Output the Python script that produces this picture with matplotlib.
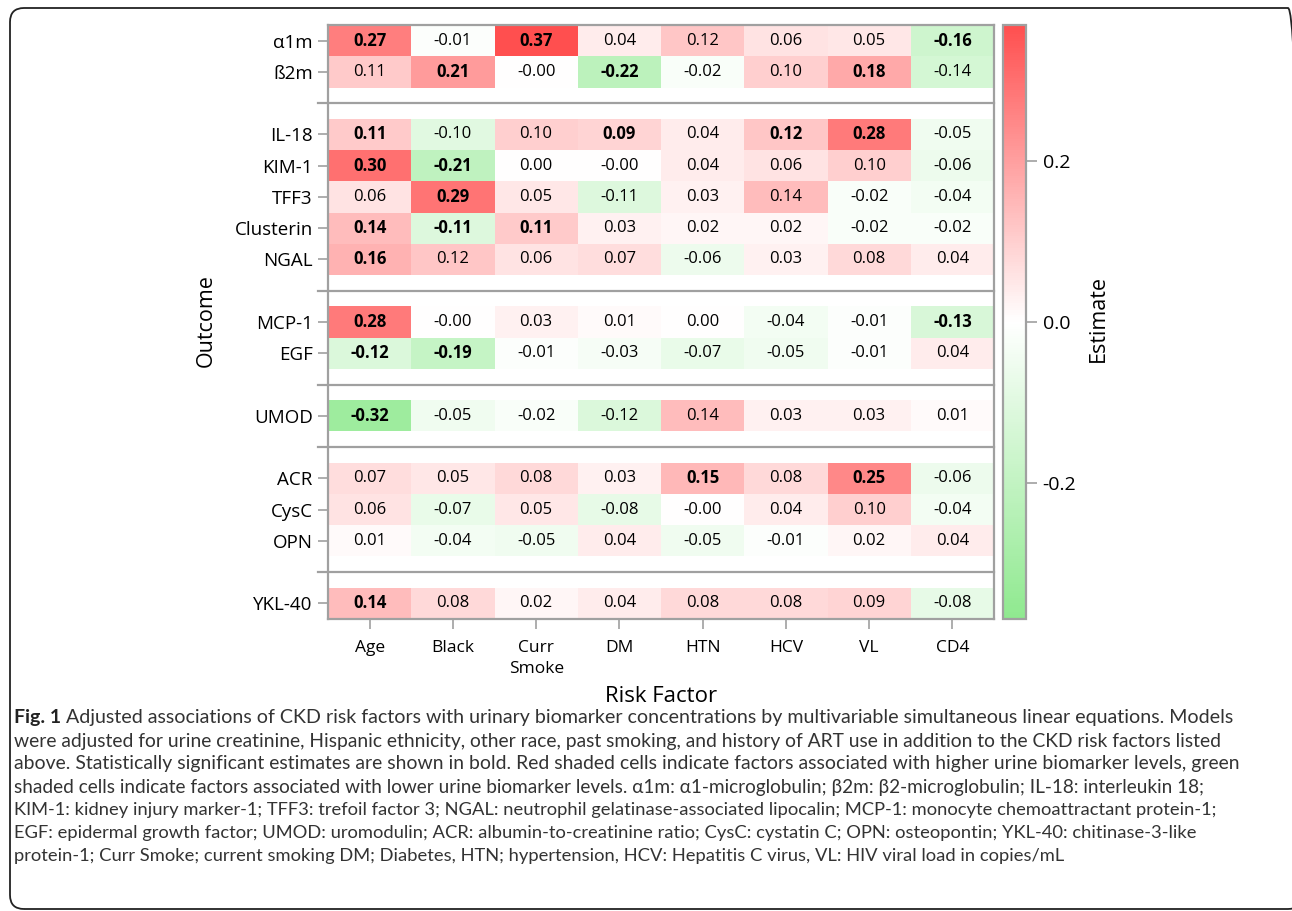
import numpy as np
import matplotlib
matplotlib.use("Agg")
import matplotlib.pyplot as plt
from matplotlib.colors import LinearSegmentedColormap
from matplotlib.patches import FancyBboxPatch
from matplotlib.ticker import FormatStrFormatter

plt.rcParams['font.family'] = ['Open Sans', 'DejaVu Sans']
plt.rcParams['axes.unicode_minus'] = False

# risk factors (columns) and outcome groups (rows)
risk_factors = ["Age", "Black", "Curr\nSmoke", "DM", "HTN", "HCV", "VL", "CD4"]
groups = [
    ["α1m", "ß2m"],
    ["IL-18", "KIM-1", "TFF3", "Clusterin", "NGAL"],
    ["MCP-1", "EGF"],
    ["UMOD"],
    ["ACR", "CysC", "OPN"],
    ["YKL-40"],
]

estimates = {
    "α1m":       [0.27, -0.01, 0.37, 0.04, 0.12, 0.06, 0.05, -0.16],
    "ß2m":       [0.11, 0.21, -0.0, -0.22, -0.02, 0.10, 0.18, -0.14],
    "IL-18":     [0.11, -0.10, 0.10, 0.09, 0.04, 0.12, 0.28, -0.05],
    "KIM-1":     [0.30, -0.21, 0.00, -0.0, 0.04, 0.06, 0.10, -0.06],
    "TFF3":      [0.06, 0.29, 0.05, -0.11, 0.03, 0.14, -0.02, -0.04],
    "Clusterin": [0.14, -0.11, 0.11, 0.03, 0.02, 0.02, -0.02, -0.02],
    "NGAL":      [0.16, 0.12, 0.06, 0.07, -0.06, 0.03, 0.08, 0.04],
    "MCP-1":     [0.28, -0.0, 0.03, 0.01, 0.00, -0.04, -0.01, -0.13],
    "EGF":       [-0.12, -0.19, -0.01, -0.03, -0.07, -0.05, -0.01, 0.04],
    "UMOD":      [-0.32, -0.05, -0.02, -0.12, 0.14, 0.03, 0.03, 0.01],
    "ACR":       [0.07, 0.05, 0.08, 0.03, 0.15, 0.08, 0.25, -0.06],
    "CysC":      [0.06, -0.07, 0.05, -0.08, -0.0, 0.04, 0.10, -0.04],
    "OPN":       [0.01, -0.04, -0.05, 0.04, -0.05, -0.01, 0.02, 0.04],
    "YKL-40":    [0.14, 0.08, 0.02, 0.04, 0.08, 0.08, 0.09, -0.08],
}

# statistically significant (bold) cells
significant = {
    "α1m":       [1, 0, 1, 0, 0, 0, 0, 1],
    "ß2m":       [0, 1, 0, 1, 0, 0, 1, 0],
    "IL-18":     [1, 0, 0, 1, 0, 1, 1, 0],
    "KIM-1":     [1, 1, 0, 0, 0, 0, 0, 0],
    "TFF3":      [0, 1, 0, 0, 0, 0, 0, 0],
    "Clusterin": [1, 1, 1, 0, 0, 0, 0, 0],
    "NGAL":      [1, 0, 0, 0, 0, 0, 0, 0],
    "MCP-1":     [1, 0, 0, 0, 0, 0, 0, 1],
    "EGF":       [1, 1, 0, 0, 0, 0, 0, 0],
    "UMOD":      [1, 0, 0, 0, 0, 0, 0, 0],
    "ACR":       [0, 0, 0, 0, 1, 0, 1, 0],
    "CysC":      [0, 0, 0, 0, 0, 0, 0, 0],
    "OPN":       [0, 0, 0, 0, 0, 0, 0, 0],
    "YKL-40":    [1, 0, 0, 0, 0, 0, 0, 0],
}

caption_lines = [
    "Adjusted associations of CKD risk factors with urinary biomarker concentrations by multivariable simultaneous linear equations. Models",
    "were adjusted for urine creatinine, Hispanic ethnicity, other race, past smoking, and history of ART use in addition to the CKD risk factors listed",
    "above. Statistically significant estimates are shown in bold. Red shaded cells indicate factors associated with higher urine biomarker levels, green",
    "shaded cells indicate factors associated with lower urine biomarker levels. α1m: α1-microglobulin; β2m: β2-microglobulin; IL-18: interleukin 18;",
    "KIM-1: kidney injury marker-1; TFF3: trefoil factor 3; NGAL: neutrophil gelatinase-associated lipocalin; MCP-1: monocyte chemoattractant protein-1;",
    "EGF: epidermal growth factor; UMOD: uromodulin; ACR: albumin-to-creatinine ratio; CysC: cystatin C; OPN: osteopontin; YKL-40: chitinase-3-like",
    "protein-1; Curr Smoke; current smoking DM; Diabetes, HTN; hypertension, HCV: Hepatitis C virus, VL: HIV viral load in copies/mL",
]
# right end (px) of each caption line in the printed figure
caption_ends = [1240, 1227, 1243, 1214, 1222, 1186, 1023]

# build row layout: a blank row between groups
row_labels = []
sep_rows = []
for gi, g in enumerate(groups):
    row_labels += g
    if gi < len(groups) - 1:
        sep_rows.append(len(row_labels))
        row_labels.append(None)
n_rows = len(row_labels)
n_cols = len(risk_factors)

grid = np.full((n_rows, n_cols), np.nan)
for r, name in enumerate(row_labels):
    if name is not None:
        grid[r] = estimates[name]

W, H = 1292, 911
fig = plt.figure(figsize=(W / 100, H / 100), dpi=100)

# outer rounded frame (right side runs off the page)
frame = FancyBboxPatch((0.10, 0.02), 12.92, 9.01,
                       boxstyle="round,pad=0,rounding_size=0.14",
                       transform=fig.dpi_scale_trans, fill=False,
                       edgecolor="#222222", linewidth=1.3)
fig.patches.append(frame)

gray = "#a0a0a0"
ax = fig.add_axes([328 / W, 1 - 619 / H, (994 - 328) / W, (619 - 25) / H])
cmap = LinearSegmentedColormap.from_list("grn_red", ["#8fe98f", "#ffffff", "#ff4f4f"])
cmap.set_bad("white")
mesh = ax.pcolormesh(np.ma.masked_invalid(grid), cmap=cmap, vmin=-0.37, vmax=0.37)
ax.set_xlim(0, n_cols)
ax.set_ylim(n_rows, 0)

for r, name in enumerate(row_labels):
    if name is None:
        continue
    for c in range(n_cols):
        v = estimates[name][c]
        ax.text(c + 0.5, r + 0.5, f"{v:.2f}", ha="center", va="center",
                fontsize=12, color="black",
                fontweight="bold" if significant[name][c] else "normal")

for s in sep_rows:
    ax.axhline(s + 0.5, xmin=-10 / 666, xmax=1, color=gray, lw=1.6, clip_on=False)

ytick_pos = [r + 0.5 for r, n in enumerate(row_labels) if n is not None]
ax.set_yticks(ytick_pos)
ax.set_yticklabels([n for n in row_labels if n is not None], fontsize=13.5)
ax.set_xticks(np.arange(n_cols) + 0.5)
ax.set_xticklabels(risk_factors, fontsize=12.5, linespacing=1.4)
ax.tick_params(axis="y", length=7, width=1.2, color=gray, pad=4)
ax.tick_params(axis="x", length=7, width=1.2, color=gray, pad=8)
for sp in ax.spines.values():
    sp.set_color(gray)
    sp.set_linewidth(1.6)

# colorbar
cax = fig.add_axes([1003 / W, 1 - 619 / H, 23 / W, (619 - 25) / H])
cb = fig.colorbar(mesh, cax=cax, ticks=[-0.2, 0.0, 0.2])
cb.ax.yaxis.set_major_formatter(FormatStrFormatter("%.1f"))
cb.ax.tick_params(length=8, width=1.2, color=gray, labelsize=14, pad=4)
cb.outline.set_edgecolor(gray)
cb.outline.set_linewidth(1.6)

fig.text(1098 / W, 1 - 318 / H, "Estimate", rotation=90, ha="center", va="center", fontsize=15.5)
fig.text(206 / W, 1 - 321 / H, "Outcome", rotation=90, ha="center", va="center", fontsize=15.5)
fig.text(661 / W, 1 - 697 / H, "Risk Factor", ha="center", va="center", fontsize=16)

# caption: each line sized to end where the printed line ends
fig.canvas.draw()
renderer = fig.canvas.get_renderer()
x0 = 14
y_first = 718
line_gap = 23
base = 14.0
cap_font = ["Lato", "DejaVu Sans"]
for i, line in enumerate(caption_lines):
    y = 1 - (y_first + i * line_gap) / H
    start = x0
    if i == 0:
        t0 = fig.text(x0 / W, y, "Fig. 1", fontsize=base, fontweight="bold",
                      ha="left", va="center", family=cap_font, color="#222222")
        start = t0.get_window_extent(renderer).x1 + 5
    t = fig.text(start / W, y, line, fontsize=base, ha="left", va="center",
                 family=cap_font, color="#333333")
    w = t.get_window_extent(renderer).width
    size = base * (caption_ends[i] - start) / w
    t.set_fontsize(min(max(size, 13.2), 14.6))

fig.savefig("out.png", dpi=100)
